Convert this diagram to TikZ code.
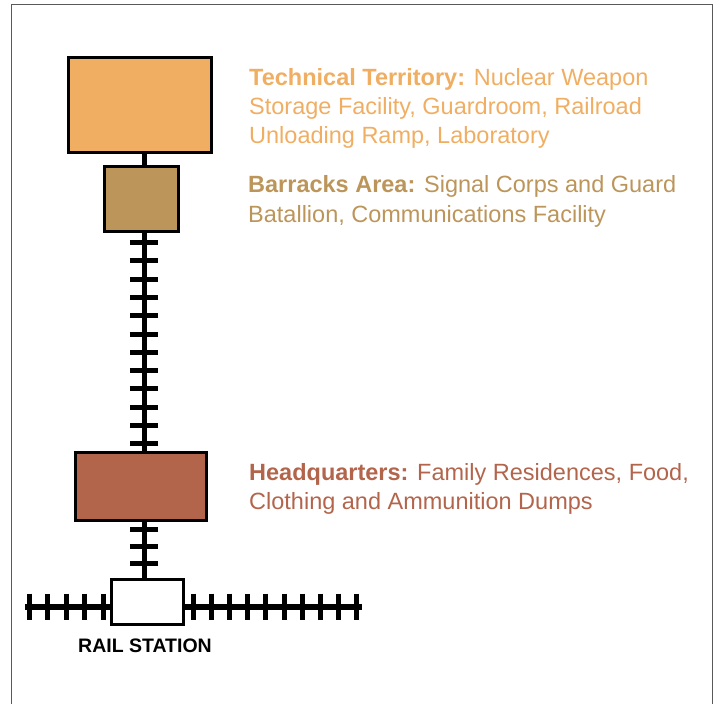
\documentclass[tikz,border=0pt]{standalone}
\usepackage{fontspec}
\setmainfont{Liberation Sans}
\definecolor{techorange}{HTML}{F0AE63}
\definecolor{barrackbrown}{HTML}{BC955A}
\definecolor{hqred}{HTML}{B3654C}

\begin{document}
\begin{tikzpicture}[
  x=1pt, y=-1pt,
  area/.style={draw=black, line width=3pt, inner sep=0pt},
  rail/.style={line width=5.5pt},
  sleeper/.style={line width=5pt},
  legend/.style={anchor=base west, align=left, inner sep=0pt,
    font=\fontsize{23.5}{29}\selectfont}
]
  \useasboundingbox (0,0) rectangle (715,704);
  \draw[black!65, line width=1pt] (11,704) |- (712,4) -- (712,704);

  % areas along the line
  \node[area, fill=techorange, minimum width=143pt, minimum height=95pt] (tech) at (140,105) {};
  \node[area, fill=barrackbrown, minimum width=74pt, minimum height=65pt] (barracks) at (141.5,199) {};
  \node[area, fill=hqred, minimum width=131pt, minimum height=68pt] (hq) at (141,486.5) {};
  \node[area, fill=white, minimum width=72pt, minimum height=45pt] (station) at (147.5,602) {};

  % track
  \coordinate (trackx) at (144.5,0);
  \coordinate (westend) at (25,607);
  \coordinate (eastend) at (361.5,607);
  \draw[rail] (tech.south -| trackx) -- (barracks.north -| trackx);
  \draw[rail] (barracks.south -| trackx) -- (hq.north -| trackx);
  \draw[rail] (hq.south -| trackx) -- (station.north -| trackx);
  \draw[rail] (westend) -- (westend -| station.west);
  \draw[rail] (station.east |- eastend) -- (eastend);
  \foreach \y in {0,...,11}
    \draw[sleeper] (130,242.7+18.27*\y) -- (158,242.7+18.27*\y);
  \foreach \y in {529,546,563}
    \draw[sleeper] (130,\y) -- (158,\y);
  \foreach \x in {0,...,4}
    \draw[sleeper] (29+18.5*\x,593.5) -- (29+18.5*\x,620);
  \foreach \x in {0,...,9}
    \draw[sleeper] (193+18.2*\x,593.5) -- (193+18.2*\x,620);

  % labels (base = last line)
  \node[legend, text=techorange] (techtext) at (249,143)
    {\textbf{Technical Territory:} Nuclear Weapon\\Storage Facility, Guardroom, Railroad\\Unloading Ramp, Laboratory};
  \node[legend, text=barrackbrown, font=\fontsize{23.5}{30}\selectfont] (barrackstext) at (248,222.5)
    {\textbf{Barracks Area:} Signal Corps and Guard\\Batallion, Communications Facility};
  \node[legend, text=hqred] (hqtext) at (249,509)
    {\textbf{Headquarters:} Family Residences, Food,\\Clothing and Ammunition Dumps};
  \node[anchor=base, inner sep=0pt, font=\bfseries\fontsize{19.5}{19.5}\selectfont] (stationlabel) at (145,652) {RAIL STATION};
\end{tikzpicture}
\end{document}
